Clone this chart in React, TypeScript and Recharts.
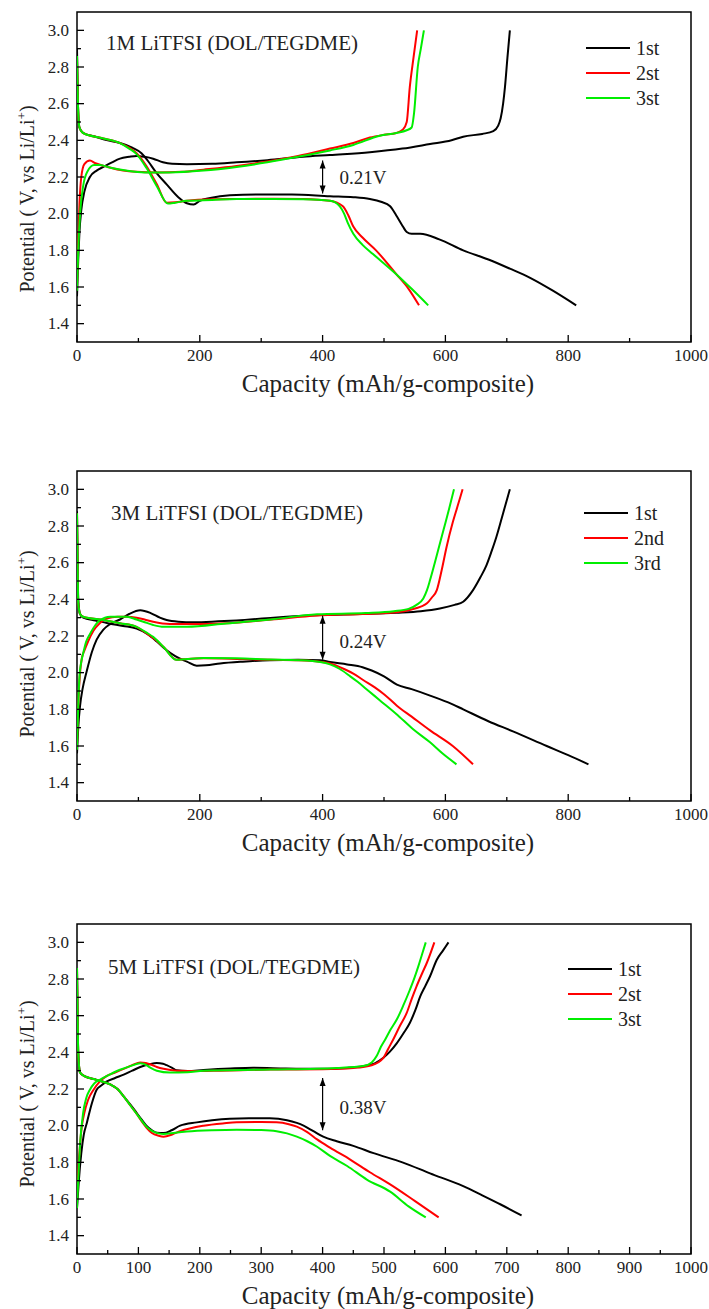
import { LineChart, Line, XAxis, YAxis, ReferenceArea, ReferenceLine, ReferenceDot } from 'recharts'

type Pt = [number, number]

const SERIF = '"Liberation Serif", Tinos, "DejaVu Serif", serif'
const BLACK = '#000000'
const RED = '#ff0000'
const GREEN = '#00ee00'

// tick values
const xTicks100 = [0, 100, 200, 300, 400, 500, 600, 700, 800, 900, 1000]
const xTicks50 = [0, 50, 100, 150, 200, 250, 300, 350, 400, 450, 500, 550, 600, 650, 700, 750, 800, 850, 900, 950, 1000]
const yTicks = [1.4, 1.5, 1.6, 1.7, 1.8, 1.9, 2.0, 2.1, 2.2, 2.3, 2.4, 2.5, 2.6, 2.7, 2.8, 2.9, 3.0]

// ---- 1M LiTFSI ----
const m1Dis1: Pt[] = [[0,2.9],[1.5,2.6],[4,2.47],[10,2.44],[30,2.42],[50,2.4],[70,2.385],[90,2.36],[105,2.33],[115,2.29],[130,2.22],[146,2.16],[165,2.09],[179,2.057],[190,2.05],[200,2.07],[217,2.085],[249,2.1],[300,2.105],[350,2.105],[412,2.095],[450,2.09],[477,2.08],[495,2.065],[510,2.04],[520,1.99],[529,1.94],[537,1.9],[545,1.89],[559,1.89],[590,1.86],[629,1.8],[670,1.75],[705,1.7],[738,1.65],[775,1.58],[813,1.5]]
const m1Chg1: Pt[] = [[0,1.55],[2,1.75],[4,1.9],[7,2.02],[12,2.12],[21,2.2],[32,2.235],[43,2.255],[57,2.28],[70,2.3],[85,2.31],[97,2.315],[110,2.31],[124,2.3],[140,2.28],[155,2.272],[179,2.27],[220,2.272],[260,2.28],[310,2.292],[368,2.31],[412,2.32],[477,2.335],[530,2.355],[575,2.38],[610,2.4],[629,2.42],[660,2.435],[678,2.45],[686,2.48],[690,2.52],[694,2.6],[697,2.69],[701,2.85],[705,3.0]]
const m1Dis2: Pt[] = [[0,2.86],[1.5,2.6],[4,2.47],[10,2.44],[43,2.41],[70,2.385],[85,2.36],[97,2.33],[113,2.26],[130,2.16],[146,2.06],[160,2.062],[179,2.07],[220,2.078],[260,2.08],[320,2.082],[368,2.08],[412,2.07],[433,2.04],[442,1.99],[450,1.93],[465,1.87],[487,1.8],[520,1.67],[540,1.59],[557,1.5]]
const m1Chg2: Pt[] = [[0,1.6],[2,1.85],[4,2.05],[7,2.2],[12,2.27],[21,2.29],[30,2.275],[50,2.255],[75,2.235],[97,2.228],[130,2.225],[170,2.228],[206,2.24],[260,2.26],[310,2.285],[360,2.315],[412,2.355],[450,2.385],[477,2.415],[500,2.43],[520,2.44],[531,2.46],[537,2.5],[542,2.69],[548,2.85],[554,3.0]]
const m1Dis3: Pt[] = [[0,2.86],[1.5,2.6],[4,2.47],[10,2.44],[43,2.41],[70,2.385],[85,2.355],[97,2.325],[113,2.25],[130,2.15],[148,2.055],[160,2.06],[179,2.07],[220,2.075],[260,2.08],[320,2.08],[368,2.078],[412,2.07],[428,2.04],[435,2.0],[441,1.95],[450,1.89],[465,1.83],[482,1.78],[520,1.67],[545,1.59],[572,1.5]]
const m1Chg3: Pt[] = [[0,1.58],[2,1.8],[5,2.0],[10,2.15],[17,2.23],[28,2.265],[37,2.265],[55,2.25],[80,2.235],[110,2.225],[150,2.225],[206,2.235],[260,2.255],[310,2.28],[360,2.31],[412,2.345],[450,2.375],[493,2.425],[520,2.44],[537,2.455],[545,2.47],[549,2.55],[555,2.8],[560,2.9],[565,3.0]]

// ---- 3M LiTFSI ----
const m3Dis1: Pt[] = [[0,2.88],[1,2.6],[2,2.4],[5,2.32],[10,2.3],[30,2.285],[50,2.27],[75,2.255],[97,2.24],[115,2.21],[130,2.17],[145,2.125],[160,2.09],[179,2.06],[195,2.038],[210,2.04],[233,2.05],[270,2.06],[314,2.068],[360,2.07],[396,2.068],[412,2.058],[440,2.045],[465,2.03],[480,2.012],[500,1.98],[521,1.935],[545,1.91],[575,1.875],[610,1.83],[629,1.8],[670,1.735],[710,1.68],[765,1.6],[800,1.55],[833,1.5]]
const m3Chg1: Pt[] = [[0,1.56],[2,1.7],[5,1.82],[9,1.91],[16,2.01],[24,2.11],[32,2.18],[43,2.235],[54,2.265],[70,2.29],[85,2.32],[103,2.34],[120,2.325],[135,2.3],[146,2.287],[165,2.278],[190,2.275],[230,2.28],[260,2.285],[320,2.3],[396,2.314],[460,2.32],[520,2.327],[560,2.335],[591,2.35],[615,2.37],[629,2.387],[645,2.45],[657,2.52],[667,2.587],[675,2.66],[683,2.74],[694,2.87],[705,3.0]]
const m3Dis2: Pt[] = [[0,2.87],[1,2.6],[2,2.38],[5,2.32],[10,2.305],[43,2.287],[70,2.27],[97,2.25],[115,2.21],[124,2.19],[141,2.14],[162,2.07],[180,2.075],[206,2.078],[260,2.075],[315,2.07],[360,2.068],[396,2.06],[412,2.05],[435,2.02],[450,1.995],[466,1.96],[485,1.92],[501,1.88],[521,1.82],[545,1.76],[575,1.685],[612,1.6],[645,1.5]]
const m3Chg2: Pt[] = [[0,1.6],[2,1.82],[5,2.0],[8,2.08],[12,2.12],[18,2.17],[27,2.23],[37,2.27],[48,2.295],[66,2.305],[80,2.305],[97,2.3],[110,2.29],[124,2.278],[151,2.266],[206,2.266],[243,2.27],[317,2.29],[391,2.312],[465,2.32],[520,2.33],[545,2.345],[560,2.36],[570,2.378],[578,2.41],[586,2.45],[594,2.56],[602,2.687],[612,2.82],[620,2.91],[628,3.0]]
const m3Dis3: Pt[] = [[0,2.87],[1,2.6],[2,2.38],[5,2.32],[10,2.305],[43,2.287],[70,2.27],[97,2.25],[115,2.215],[124,2.195],[141,2.14],[162,2.07],[180,2.075],[206,2.08],[260,2.078],[315,2.072],[360,2.068],[396,2.058],[412,2.045],[428,2.02],[445,1.98],[457,1.95],[475,1.9],[493,1.85],[520,1.775],[548,1.69],[575,1.62],[595,1.56],[618,1.5]]
const m3Chg3: Pt[] = [[0,1.58],[2,1.82],[4,1.98],[7,2.06],[10,2.105],[15,2.17],[21,2.21],[30,2.26],[37,2.285],[54,2.305],[81,2.305],[97,2.29],[108,2.278],[124,2.26],[141,2.25],[179,2.25],[243,2.268],[315,2.29],[391,2.318],[470,2.325],[516,2.335],[540,2.348],[553,2.37],[564,2.405],[570,2.45],[575,2.505],[586,2.64],[597,2.78],[605,2.88],[614,3.0]]

// ---- 5M LiTFSI ----
const m5Dis1: Pt[] = [[0,2.86],[1,2.6],[2,2.4],[5,2.29],[12,2.27],[32,2.25],[54,2.225],[66,2.2],[76,2.16],[87,2.115],[97,2.07],[106,2.03],[113,2.0],[122,1.975],[130,1.962],[141,1.96],[154,1.975],[168,2.0],[195,2.018],[220,2.03],[249,2.038],[280,2.04],[314,2.04],[342,2.03],[358,2.015],[369,2.0],[385,1.97],[401,1.94],[423,1.915],[450,1.89],[483,1.85],[530,1.8],[575,1.74],[629,1.67],[660,1.62],[690,1.57],[724,1.51]]
const m5Chg1: Pt[] = [[0,1.55],[2,1.65],[3,1.7],[7,1.85],[11,1.95],[16,2.015],[24,2.12],[32,2.196],[40,2.22],[48,2.24],[62,2.26],[76,2.278],[90,2.3],[103,2.32],[118,2.335],[130,2.342],[140,2.338],[146,2.33],[155,2.315],[162,2.302],[180,2.298],[206,2.304],[250,2.312],[287,2.316],[340,2.312],[396,2.31],[440,2.315],[466,2.324],[485,2.34],[499,2.37],[510,2.405],[521,2.45],[532,2.505],[542,2.56],[551,2.63],[559,2.705],[567,2.76],[575,2.815],[586,2.905],[596,2.955],[605,3.0]]
const m5Dis2: Pt[] = [[0,2.86],[1,2.6],[2,2.4],[5,2.29],[12,2.27],[32,2.25],[54,2.225],[66,2.2],[76,2.16],[87,2.11],[97,2.065],[106,2.02],[113,1.99],[122,1.96],[133,1.945],[141,1.94],[155,1.952],[168,1.97],[206,2.0],[240,2.013],[260,2.018],[300,2.02],[325,2.018],[345,2.008],[358,1.995],[375,1.965],[391,1.925],[412,1.88],[445,1.815],[477,1.746],[510,1.68],[550,1.59],[589,1.5]]
const m5Chg2: Pt[] = [[0,1.6],[2,1.75],[5,1.9],[8,2.0],[12,2.07],[18,2.14],[27,2.196],[37,2.24],[48,2.27],[62,2.29],[76,2.31],[90,2.33],[103,2.345],[112,2.342],[119,2.335],[130,2.32],[141,2.31],[162,2.3],[200,2.298],[233,2.3],[315,2.306],[400,2.308],[450,2.315],[480,2.33],[499,2.37],[507,2.42],[515,2.47],[526,2.545],[537,2.615],[545,2.69],[553,2.76],[562,2.83],[570,2.89],[582,3.0]]
const m5Dis3: Pt[] = [[0,2.86],[1,2.6],[2,2.4],[5,2.29],[12,2.27],[32,2.25],[54,2.225],[66,2.2],[76,2.16],[87,2.11],[97,2.065],[106,2.025],[113,1.995],[122,1.972],[133,1.958],[141,1.955],[160,1.962],[179,1.968],[220,1.975],[260,1.978],[300,1.976],[325,1.97],[342,1.958],[358,1.94],[375,1.915],[391,1.885],[412,1.835],[440,1.78],[472,1.706],[510,1.64],[540,1.56],[568,1.5]]
const m5Chg3: Pt[] = [[0,1.55],[2,1.705],[5,1.9],[10,2.07],[15,2.15],[21,2.196],[28,2.23],[37,2.25],[54,2.28],[70,2.305],[87,2.325],[103,2.34],[108,2.338],[113,2.33],[120,2.315],[130,2.3],[151,2.29],[180,2.292],[206,2.3],[315,2.306],[423,2.315],[466,2.325],[480,2.345],[488,2.38],[495,2.43],[502,2.47],[510,2.52],[521,2.58],[532,2.66],[542,2.74],[550,2.81],[556,2.87],[562,2.935],[568,3.0]]

const legend1 = ['1st', '2st', '3st']
const legend3 = ['1st', '2nd', '3rd']

const toRows = (pts: Pt[]) => pts.map(([x, y]) => ({ x, y }))

const XTick = (props: any) => {
  const { x, y, payload, every } = props
  const v = payload.value
  const axisY = y - 8
  const major = v % every === 0
  return (
    <g>
      <line x1={x} x2={x} y1={axisY} y2={axisY - (major ? 7 : 4)} stroke="#000" strokeWidth={1.3} />
      {major && (
        <text x={x} y={axisY + 13} textAnchor="middle" dominantBaseline="central" fontSize={17} fontFamily={SERIF} fill="#222">
          {v}
        </text>
      )}
    </g>
  )
}

const YTick = (props: any) => {
  const { x, y, payload } = props
  const v = payload.value
  const axisX = x + 8
  const major = Math.round(v * 10) % 2 === 0
  return (
    <g>
      <line x1={axisX} x2={axisX + (major ? 7 : 4)} y1={y} y2={y} stroke="#000" strokeWidth={1.3} />
      {major && (
        <text x={axisX - 8} y={y} textAnchor="end" dominantBaseline="central" fontSize={17} fontFamily={SERIF} fill="#222">
          {v.toFixed(1)}
        </text>
      )}
    </g>
  )
}

type PanelProps = {
  top: number
  title: string
  titleX: number
  titleY: number
  legend: string[]
  legendX: number
  legendY: number
  series: Pt[][]
  xTicks: number[]
  every: number
  gap: [number, number]
  gapLabel: string
  gapY: number
  yLabelY: number
}

function Panel(p: PanelProps) {
  const colors = [BLACK, BLACK, RED, RED, GREEN, GREEN]
  const colorsLegend = [BLACK, RED, GREEN]
  return (
    <div style={{ position: 'absolute', left: 0, top: p.top, width: 709, height: 450, fontFamily: SERIF }}>
      <LineChart width={709} height={450} margin={{ top: 12, right: 18, left: 17, bottom: 78 }}>
        <XAxis
          type="number"
          dataKey="x"
          domain={[0, 1000]}
          ticks={p.xTicks}
          interval={0}
          tickSize={0}
          tickMargin={8}
          tickLine={false}
          axisLine={false}
          height={30}
          allowDataOverflow
          tick={(t: any) => <XTick {...t} every={p.every} />}
        />
        <YAxis
          type="number"
          domain={[1.3, 3.1]}
          ticks={yTicks}
          interval={0}
          tickSize={0}
          tickMargin={8}
          tickLine={false}
          axisLine={false}
          width={60}
          allowDataOverflow
          tick={(t: any) => <YTick {...t} />}
        />
        {p.series.map((s, i) => (
          <Line
            key={i}
            data={toRows(s)}
            dataKey="y"
            type="monotone"
            stroke={colors[i]}
            strokeWidth={2}
            dot={false}
            isAnimationActive={false}
          />
        ))}
        <ReferenceLine segment={[{ x: 400, y: p.gap[0] }, { x: 400, y: p.gap[1] }]} stroke="#000" strokeWidth={1.2} />
        <ReferenceDot
          x={400}
          y={p.gap[1]}
          r={0}
          shape={(d: any) => <polygon points={`${d.cx},${d.cy} ${d.cx - 3},${d.cy + 8} ${d.cx + 3},${d.cy + 8}`} fill="#000" />}
        />
        <ReferenceDot
          x={400}
          y={p.gap[0]}
          r={0}
          shape={(d: any) => <polygon points={`${d.cx},${d.cy} ${d.cx - 3},${d.cy - 8} ${d.cx + 3},${d.cy - 8}`} fill="#000" />}
        />
        <ReferenceDot
          x={400}
          y={p.gapY}
          r={0}
          shape={(d: any) => (
            <text x={d.cx + 17} y={d.cy} dominantBaseline="central" fontSize={19} fontFamily={SERIF} fill="#222">
              {p.gapLabel}
            </text>
          )}
        />
        <ReferenceArea x1={0} x2={1000} y1={1.3} y2={3.1} fill="none" stroke="#000" strokeWidth={1.5} />
      </LineChart>

      <div style={{ position: 'absolute', left: p.titleX, top: p.titleY - 13, lineHeight: '26px', fontSize: 21, whiteSpace: 'nowrap', color: '#222' }}>
        {p.title}
      </div>

      {p.legend.map((name, i) => (
        <div key={name} style={{ position: 'absolute', left: p.legendX, top: p.legendY + i * 25 - 12, height: 24, display: 'flex', alignItems: 'center', whiteSpace: 'nowrap' }}>
          <div style={{ width: 44, height: 2, background: colorsLegend[i] }} />
          <span style={{ marginLeft: 6, fontSize: 20, color: '#222' }}>{name}</span>
        </div>
      ))}

      <div style={{ position: 'absolute', left: 388 - 200, top: 384 - 15, width: 400, textAlign: 'center', lineHeight: '30px', fontSize: 25, whiteSpace: 'nowrap', color: '#222' }}>
        Capacity (mAh/g-composite)
      </div>

      <div
        style={{
          position: 'absolute',
          left: 27 - 150,
          top: p.yLabelY - 12,
          width: 300,
          height: 24,
          lineHeight: '24px',
          textAlign: 'center',
          fontSize: 20,
          whiteSpace: 'nowrap',
          transform: 'rotate(-90deg)',
          color: '#222',
        }}
      >
        Potential ( V, vs Li/Li<sup style={{ fontSize: 13, lineHeight: 0 }}>+</sup>)
      </div>
    </div>
  )
}

export default function App() {
  return (
    <div style={{ position: 'absolute', left: 0, top: 0, width: 709, height: 1309, overflow: 'hidden', background: '#fff' }}>
      <Panel
        top={0}
        title="1M LiTFSI (DOL/TEGDME)"
        titleX={106}
        titleY={43}
        legend={legend1}
        legendX={586}
        legendY={48}
        series={[m1Dis1, m1Chg1, m1Dis2, m1Chg2, m1Dis3, m1Chg3]}
        xTicks={xTicks100}
        every={200}
        gap={[2.11, 2.29]}
        gapLabel="0.21V"
        gapY={2.2}
        yLabelY={199}
      />
      <Panel
        top={459}
        title="3M LiTFSI (DOL/TEGDME)"
        titleX={111}
        titleY={54}
        legend={legend3}
        legendX={584}
        legendY={54}
        series={[m3Dis1, m3Chg1, m3Dis2, m3Chg2, m3Dis3, m3Chg3]}
        xTicks={xTicks100}
        every={200}
        gap={[2.07, 2.31]}
        gapLabel="0.24V"
        gapY={2.17}
        yLabelY={185}
      />
      <Panel
        top={912}
        title="5M LiTFSI (DOL/TEGDME)"
        titleX={108}
        titleY={55}
        legend={legend1}
        legendX={568}
        legendY={57}
        series={[m5Dis1, m5Chg1, m5Dis2, m5Chg2, m5Dis3, m5Chg3]}
        xTicks={xTicks50}
        every={100}
        gap={[1.975, 2.26]}
        gapLabel="0.38V"
        gapY={2.1}
        yLabelY={182}
      />
    </div>
  )
}
